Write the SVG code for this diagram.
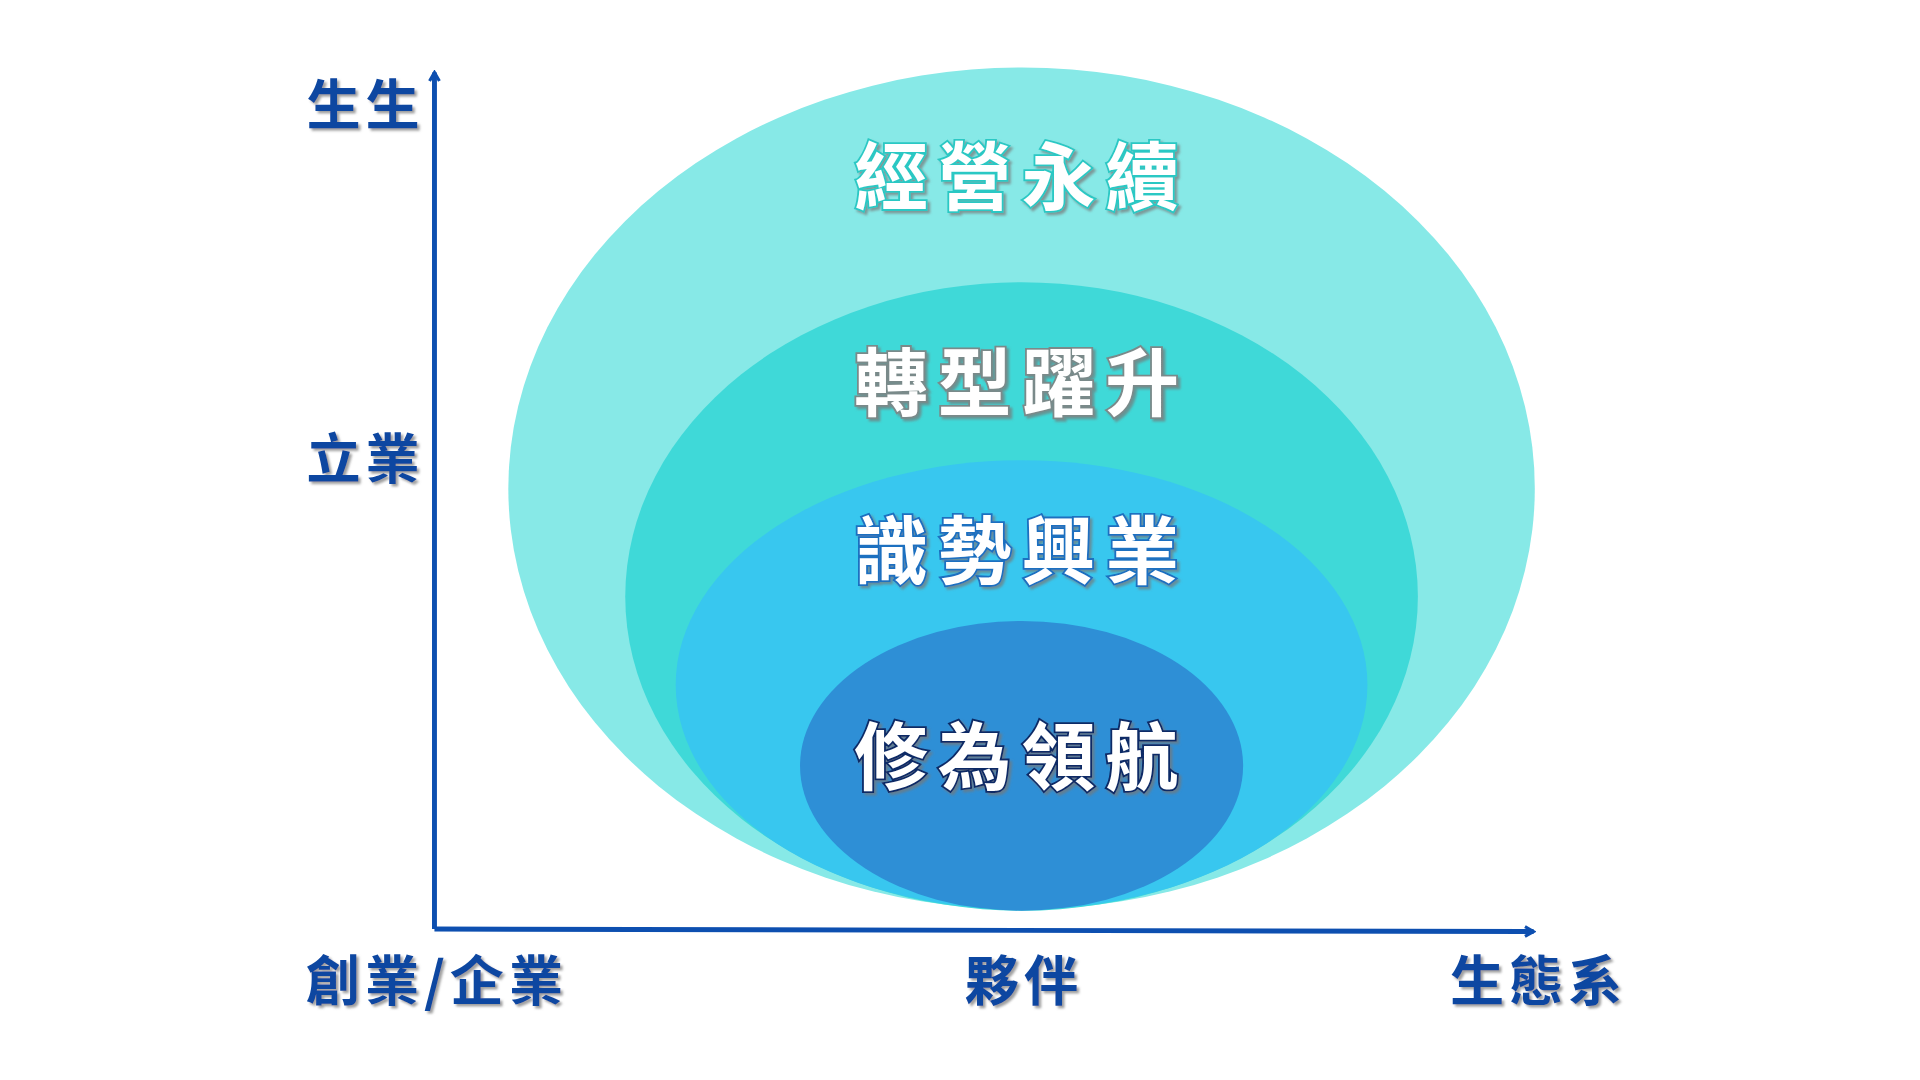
<svg xmlns="http://www.w3.org/2000/svg" width="1920" height="1080" viewBox="0 0 1920 1080">
<style>
.in{font-family:"Noto Sans CJK TC","Noto Sans CJK SC",sans-serif;font-weight:bold;font-size:60px;text-anchor:middle;fill:#fff;letter-spacing:8px;paint-order:stroke;stroke-width:3px}
.ax{font-family:"Noto Sans CJK TC","Noto Sans CJK SC",sans-serif;font-weight:bold;font-size:44px;text-anchor:middle;fill:#0d47a1;letter-spacing:4px}
</style>
<defs>
<marker id="ar" markerWidth="10" markerHeight="10" refX="8" refY="5" orient="auto" markerUnits="userSpaceOnUse"><path d="M1,1 L8,5 L1,9" fill="none" stroke="#0d4fb0" stroke-width="2.5"/></marker>
<filter id="sh"><feDropShadow dx="2" dy="2" stdDeviation="1" flood-color="#777" flood-opacity="0.7"/></filter>
</defs>
<rect width="1920" height="1080" fill="#fff"/>
<g transform="scale(1.2308 1.2273)">
<g id="n1"><ellipse cx="830" cy="398" rx="417" ry="343" fill="#87e9e7"/><text class="in" x="830" y="166" stroke="#2cc8c4" filter="url(#sh)">經營永續</text></g>
<g id="n2"><ellipse cx="830" cy="486" rx="322" ry="256" fill="#3fd9d8"/><text class="in" x="830" y="334" stroke="#7a8a8a" filter="url(#sh)">轉型躍升</text></g>
<g id="n3"><ellipse cx="830" cy="558" rx="281" ry="183" fill="#38c7ef"/><text class="in" x="830" y="471" stroke="#1a6fc0" filter="url(#sh)">識勢興業</text></g>
<g id="n4"><ellipse cx="830" cy="624" rx="180" ry="118" fill="#2e8fd6"/><text class="in" x="830" y="639" stroke="#0b2a66" filter="url(#sh)">修為領航</text></g>
<g id="connectors" stroke="#0d4fb0" stroke-width="4" fill="none">
<line x1="353" y1="757" x2="353" y2="59" marker-end="url(#ar)"/>
<line x1="353" y1="757" x2="1246" y2="759" marker-end="url(#ar)"/>
</g>
<g id="labels" filter="url(#sh)">
<text class="ax" x="297" y="102">生生</text>
<text class="ax" x="297" y="390">立業</text>
<text class="ax" x="355" y="816">創業/企業</text>
<text class="ax" x="832" y="816">夥伴</text>
<text class="ax" x="1250" y="816">生態系</text>
</g>
</g>
</svg>
